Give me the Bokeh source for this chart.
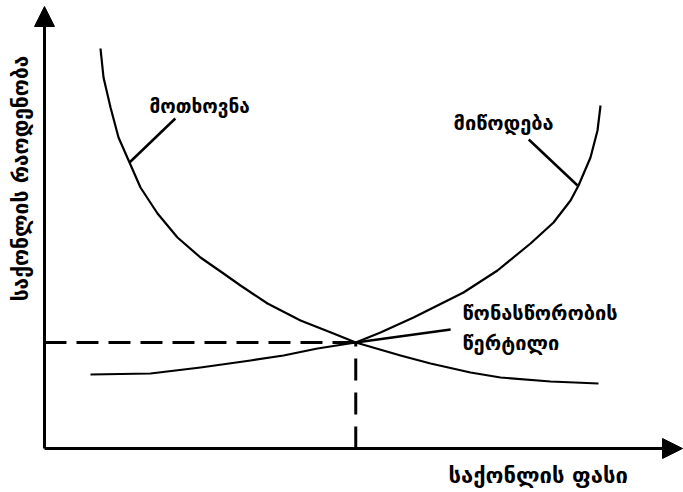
import math
from bokeh.plotting import figure
from bokeh.models import Range1d, Arrow, NormalHead
from bokeh.core.properties import value
from bokeh.embed import file_html
from bokeh.resources import INLINE

# ---- data (price on x, quantity on y) ----
demand_price = [0.903, 0.952, 1.065, 1.194, 1.371, 1.548, 1.823, 2.145, 2.516, 2.887,
                3.161, 3.597, 4.129, 4.661, 5.02, 5.742, 6.226, 6.871, 7.355, 8.161, 8.935]
demand_qty = [10.0, 9.275, 8.525, 7.775, 7.15, 6.525, 5.875, 5.275, 4.775, 4.375,
              4.075, 3.625, 3.2, 2.875, 2.65, 2.325, 2.125, 1.9, 1.775, 1.675, 1.625]

supply_price = [0.742, 1.710, 2.516, 3.323, 3.855, 4.403, 5.02, 5.419, 5.952, 6.5,
                6.758, 7.306, 7.839, 8.210, 8.484, 8.613, 8.806, 8.919, 8.968]
supply_qty = [1.85, 1.875, 2.025, 2.2, 2.325, 2.5, 2.65, 2.9, 3.275, 3.7,
              3.9, 4.45, 5.125, 5.65, 6.2, 6.575, 7.275, 7.95, 8.575]

eq_price = 5.02
eq_qty = 2.65

x_label = "საქონლის ფასი"
y_label = "საქონლის რაოდენობა"
demand_label = "მოთხოვნა"
supply_label = "მიწოდება"
eq_label = ["წონასწორობის", "წერტილი"]

FONT = value("DejaVu Sans")

p = figure(width=683, height=492, output_backend="svg", toolbar_location=None,
           x_range=Range1d(-0.7097, 10.306), y_range=Range1d(-1.1, 11.2),
           min_border=0, min_border_left=0, min_border_right=0,
           min_border_top=0, min_border_bottom=0)
p.axis.visible = False
p.grid.visible = False
p.outline_line_color = None
p.background_fill_color = "white"
p.border_fill_color = "white"

# axes with arrows
p.add_layout(Arrow(end=NormalHead(size=20, fill_color="black", line_color="black"),
                   x_start=0, y_start=0, x_end=0, y_end=11.05,
                   line_width=3, line_color="black"))
p.add_layout(Arrow(end=NormalHead(size=20, fill_color="black", line_color="black"),
                   x_start=0, y_start=0, x_end=10.29, y_end=0,
                   line_width=3, line_color="black"))

# dashed guide lines
p.line([0, eq_price], [eq_qty, eq_qty], line_color="black", line_width=3, line_dash="22 10")
p.line([eq_price, eq_price], [0, eq_qty], line_color="black", line_width=3, line_dash="22 12")

# curves
p.line(demand_price, demand_qty, line_color="black", line_width=2.2, line_join="round")
p.line(supply_price, supply_qty, line_color="black", line_width=2.2, line_join="round")

# pointer lines
p.line([1.371, 2.11], [7.15, 8.25], line_color="black", line_width=2.5)
p.line([8.597, 7.81], [6.575, 7.725], line_color="black", line_width=2.5)
p.line([eq_price, 6.55], [eq_qty, 2.975], line_color="black", line_width=2.5)

# labels
p.text(x=[1.694], y=[8.575], text=[demand_label], text_font=FONT, text_font_style="bold",
       text_font_size="19px", text_align="left", text_baseline="middle", text_color="black")
p.text(x=[6.597], y=[8.15], text=[supply_label], text_font=FONT, text_font_style="bold",
       text_font_size="20px", text_align="left", text_baseline="middle", text_color="black")
p.text(x=[6.742, 6.742], y=[3.40, 2.65], text=eq_label, text_font=FONT, text_font_style="bold",
       text_font_size="20px", text_align="left", text_baseline="middle", text_color="black")
p.text(x=[6.516], y=[-0.675], text=[x_label], text_font=FONT, text_font_style="bold",
       text_font_size="22px", text_align="left", text_baseline="middle", text_color="black")
p.text(x=[-0.387], y=[6.75], text=[y_label], text_font=FONT, text_font_style="bold",
       text_font_size="21px", text_align="center", text_baseline="middle", text_color="black",
       angle=math.pi / 2)

open("out.html", "w").write(file_html(p, INLINE))
